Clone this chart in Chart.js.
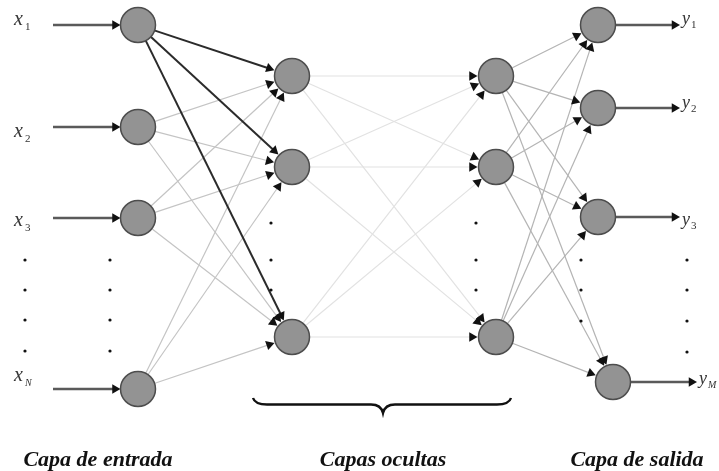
<!DOCTYPE html>
<html>
<head>
<meta charset="utf-8">
<script src="https://cdn.jsdelivr.net/npm/chart.js@4.4.1/dist/chart.umd.min.js"></script>
<style>
  html, body { margin: 0; padding: 0; background: #fff; }
  #wrap { width: 719px; height: 471px; position: relative; }
</style>
</head>
<body>
<div id="wrap"><canvas id="net"></canvas></div>
<script>
// layer positions (chart units)
var inputX = 138;
var inputY = [25, 127, 218, 389];
var hidden1X = 292;
var hidden1Y = [76, 167, 337];
var hidden2X = 496;
var hidden2Y = [76, 167, 337];
var outputX = [598, 598, 598, 613];
var outputY = [25, 108, 217, 382];

// where the input / output arrows start and stop
var inputArrowStart = 53;
var outputArrowEnd = [680, 680, 680, 697];

// the "..." dots
var inputDotsY = [260, 290, 320, 351];
var inputDotsX = [25, 110];
var hiddenDotsY = [223, 260, 290];
var hiddenDotsX = [271, 476];
var outputDotsLeftY = [260, 290, 321];
var outputDotsRightY = [260, 290, 321, 352];
var outputDotsX = [581, 687];

var inputSubs = ['1', '2', '3', 'N'];
var outputSubs = ['1', '2', '3', 'M'];
var layerTitles = ['Capa de entrada', 'Capas ocultas', 'Capa de salida'];

var nodeR = 17.5;
var arrowR = 5.5;

function edge(x0, y0, x1, y1, color, width, toNode) {
	// end the line on the circle edge (or on the given point), with a triangle tip
	var dx = x1 - x0, dy = y1 - y0;
	var len = Math.sqrt(dx * dx + dy * dy);
	var ux = dx / len, uy = dy / len;
	var back = (toNode ? nodeR + 1 : 0) + arrowR;
	var ex = x1 - ux * back, ey = y1 - uy * back;
	var rot = Math.atan2(uy, ux) * 180 / Math.PI + 90;
	return {
		type: 'scatter',
		showLine: true,
		order: 2,
		clip: false,
		data: [{x: x0 + ux * (nodeR - 2), y: y0 + uy * (nodeR - 2)}, {x: ex, y: ey}],
		borderColor: color,
		borderWidth: width,
		pointStyle: 'triangle',
		pointRadius: [0, arrowR],
		pointHoverRadius: [0, arrowR],
		pointRotation: [0, rot],
		pointBackgroundColor: '#111',
		pointBorderColor: '#111',
		pointBorderWidth: 0
	};
}

function plainArrow(x0, y0, x1, y1) {
	var d = edge(x0, y0, x1, y1, '#5a5a5a', 2.4, false);
	d.data[0] = {x: x0, y: y0};
	return d;
}

var datasets = [];

// input -> hidden 1
for (var i = 0; i < inputY.length; i++) {
	for (var j = 0; j < hidden1Y.length; j++) {
		var c = i == 0 ? '#2b2b2b' : '#c4c4c4';
		var w = i == 0 ? 2 : 1.2;
		datasets.push(edge(inputX, inputY[i], hidden1X, hidden1Y[j], c, w, true));
	}
}
// hidden 1 -> hidden 2
for (var i = 0; i < hidden1Y.length; i++) {
	for (var j = 0; j < hidden2Y.length; j++) {
		datasets.push(edge(hidden1X, hidden1Y[i], hidden2X, hidden2Y[j], '#e2e2e2', 1.2, true));
	}
}
// hidden 2 -> output
for (var i = 0; i < hidden2Y.length; i++) {
	for (var j = 0; j < outputY.length; j++) {
		datasets.push(edge(hidden2X, hidden2Y[i], outputX[j], outputY[j], '#b4b4b4', 1.2, true));
	}
}
// input arrows
for (var i = 0; i < inputY.length; i++) {
	datasets.push(plainArrow(inputArrowStart, inputY[i], inputX - nodeR, inputY[i]));
}
// output arrows
for (var j = 0; j < outputY.length; j++) {
	datasets.push(plainArrow(outputX[j] + nodeR, outputY[j], outputArrowEnd[j], outputY[j]));
}

// nodes
var nodes = [];
inputY.forEach(function(y) { nodes.push({x: inputX, y: y}); });
hidden1Y.forEach(function(y) { nodes.push({x: hidden1X, y: y}); });
hidden2Y.forEach(function(y) { nodes.push({x: hidden2X, y: y}); });
outputY.forEach(function(y, k) { nodes.push({x: outputX[k], y: y}); });
datasets.push({
	type: 'scatter',
	order: 0,
	clip: false,
	data: nodes,
	pointRadius: nodeR,
	pointHoverRadius: nodeR,
	pointBackgroundColor: '#939393',
	pointBorderColor: '#4d4d4d',
	pointBorderWidth: 1.5
});

// dots
var dots = [];
inputDotsX.forEach(function(x) { inputDotsY.forEach(function(y) { dots.push({x: x, y: y}); }); });
hiddenDotsX.forEach(function(x) { hiddenDotsY.forEach(function(y) { dots.push({x: x, y: y}); }); });
outputDotsLeftY.forEach(function(y) { dots.push({x: outputDotsX[0], y: y}); });
outputDotsRightY.forEach(function(y) { dots.push({x: outputDotsX[1], y: y}); });
datasets.push({
	type: 'scatter',
	order: 1,
	clip: false,
	data: dots,
	pointRadius: 1.6,
	pointHoverRadius: 1.6,
	pointBackgroundColor: '#111',
	pointBorderWidth: 0
});

// text and brace
var labelsPlugin = {
	id: 'labels',
	afterDraw: function(chart) {
		var ctx = chart.ctx;
		var sx = chart.scales.x, sy = chart.scales.y;
		function px(v) { return sx.getPixelForValue(v); }
		function py(v) { return sy.getPixelForValue(v); }
		ctx.save();
		ctx.fillStyle = '#333';
		ctx.textAlign = 'left';
		ctx.textBaseline = 'alphabetic';

		// x_i labels
		var inBase = [25, 137, 226, 381];
		for (var i = 0; i < inputSubs.length; i++) {
			ctx.font = 'italic 20px "Liberation Serif"';
			ctx.fillText('x', px(14), py(inBase[i]));
			ctx.font = (i == 3 ? 'italic 10px' : '11px') + ' "Liberation Serif"';
			ctx.fillText(inputSubs[i], px(25), py(inBase[i] + 5));
		}
		// y_i labels
		var outBase = [24, 108, 225, 384];
		var outLeft = [682, 682, 682, 699];
		for (var j = 0; j < outputSubs.length; j++) {
			ctx.font = 'italic 18px "Liberation Serif"';
			ctx.fillText('y', px(outLeft[j]), py(outBase[j]));
			ctx.font = (j == 3 ? 'italic 10px' : '11px') + ' "Liberation Serif"';
			ctx.fillText(outputSubs[j], px(outLeft[j] + 9), py(outBase[j] + 4));
		}

		// brace under the hidden layers
		var bl = px(253), br = px(511), bm = px(383);
		var top = py(398), mid = py(404.5), tip = py(413);
		ctx.strokeStyle = '#111';
		ctx.lineWidth = 2.4;
		ctx.beginPath();
		ctx.moveTo(bl, top);
		ctx.quadraticCurveTo(bl + 2, mid, bl + 14, mid);
		ctx.lineTo(bm - 12, mid);
		ctx.quadraticCurveTo(bm - 2, mid, bm, tip);
		ctx.quadraticCurveTo(bm + 2, mid, bm + 12, mid);
		ctx.lineTo(br - 14, mid);
		ctx.quadraticCurveTo(br - 2, mid, br, top);
		ctx.stroke();

		// layer titles
		ctx.font = 'italic bold 22px "Liberation Serif"';
		ctx.textAlign = 'center';
		ctx.fillStyle = '#111';
		var titleX = [98, 383, 637];
		for (var k = 0; k < layerTitles.length; k++) {
			ctx.fillText(layerTitles[k], px(titleX[k]), py(466));
		}
		ctx.restore();
	}
};

new Chart('net', {
	type: 'scatter',
	data: { datasets: datasets },
	options: {
		responsive: true,
		maintainAspectRatio: false,
		animation: false,
		events: [],
		layout: { padding: 0, autoPadding: false },
		plugins: {
			legend: { display: false },
			tooltip: { enabled: false }
		},
		scales: {
			x: { type: 'linear', min: 0, max: 719, display: false },
			y: { type: 'linear', min: 0, max: 471, reverse: true, display: false }
		}
	},
	plugins: [labelsPlugin]
});
</script>
</body>
</html>
